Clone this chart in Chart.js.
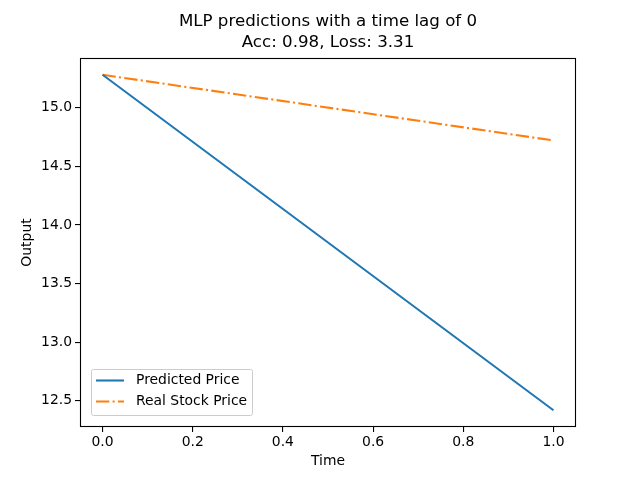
<!DOCTYPE html>
<html><head><meta charset="utf-8">
<script src="https://cdn.jsdelivr.net/npm/chart.js@4/dist/chart.umd.min.js"></script>
<style>html,body{margin:0;padding:0;background:#fff}canvas{display:block}</style>
</head><body>
<canvas id="c" width="640" height="480"></canvas>
<script>
const titleLines = ["MLP predictions with a time lag of 0", "Acc: 0.98, Loss: 3.31"];
const timeValues = [0.0, 1.0];
const predictedPrice = [15.28, 12.42];
const realStockPrice = [15.28, 14.72];
const seriesLabels = ["Predicted Price", "Real Stock Price"];
const xTicks = [0.0, 0.2, 0.4, 0.6, 0.8, 1.0];
const yTicks = [12.5, 13.0, 13.5, 14.0, 14.5, 15.0];
const xTitle = "Time";
const yTitle = "Output";

const FONT = "'DejaVu Sans', sans-serif";
const LW = 2.08;
const dashDot = [13.3, 3.3, 2.08, 3.3];

const frameAndText = {
  id: 'frameAndText',
  afterDraw(chart) {
    const ctx = chart.ctx, a = chart.chartArea;
    ctx.save();
    ctx.strokeStyle = '#000'; ctx.lineWidth = 1.1;
    ctx.strokeRect(Math.round(a.left) + 0.5, Math.round(a.top) + 0.5, Math.round(a.right - a.left) - 1, Math.round(a.bottom - a.top) - 1);
    // title
    ctx.fillStyle = '#000';
    ctx.font = '16.67px ' + FONT;
    ctx.textAlign = 'center'; ctx.textBaseline = 'middle';
    const cx = (a.left + a.right) / 2;
    ctx.fillText(titleLines[0], cx, 22);
    ctx.fillText(titleLines[1], cx, 43);
    // legend
    const lx = 91.5, ly = 369.5, lw = 161, lh = 46;
    ctx.fillStyle = 'rgba(255,255,255,0.8)';
    ctx.strokeStyle = '#cccccc'; ctx.lineWidth = 1;
    ctx.beginPath();
    if (ctx.roundRect) ctx.roundRect(lx, ly, lw, lh, 2); else ctx.rect(lx, ly, lw, lh);
    ctx.fill(); ctx.stroke();
    const ds = chart.data.datasets;
    const rows = [380.5, 401.5];
    ds.forEach((d, i) => {
      ctx.strokeStyle = d.borderColor; ctx.lineWidth = LW;
      ctx.setLineDash(d.borderDash || []);
      ctx.beginPath(); ctx.moveTo(96, rows[i]); ctx.lineTo(124, rows[i]); ctx.stroke();
      ctx.setLineDash([]);
      ctx.fillStyle = '#000'; ctx.font = '13.9px ' + FONT;
      ctx.textAlign = 'left'; ctx.textBaseline = 'middle';
      ctx.fillText(d.label, 136, rows[i]);
    });
    ctx.restore();
  }
};

new Chart(document.getElementById('c'), {
  type: 'line',
  data: {
    datasets: [
      { label: seriesLabels[0], data: timeValues.map((t, i) => ({x: t, y: predictedPrice[i]})),
        borderColor: '#1f77b4', borderWidth: LW, pointRadius: 0, fill: false, tension: 0 },
      { label: seriesLabels[1], data: timeValues.map((t, i) => ({x: t, y: realStockPrice[i]})),
        borderColor: '#ff7f0e', borderWidth: LW, pointRadius: 0, fill: false, tension: 0, borderDash: dashDot }
    ]
  },
  options: {
    responsive: false, animation: false, devicePixelRatio: 1,
    layout: { padding: { left: 0, right: 64, top: 58, bottom: 0 } },
    plugins: { legend: { display: false }, title: { display: false }, tooltip: { enabled: false } },
    scales: {
      x: {
        type: 'linear', min: -0.05, max: 1.05,
        afterBuildTicks: s => { s.ticks = xTicks.map(v => ({value: v})); },
        afterFit: s => { s.height = 53; },
        ticks: { color: '#000', font: { family: FONT, size: 13.9 }, padding: 2, maxRotation: 0,
                 callback: v => Number(v).toFixed(1) },
        grid: { display: true, drawOnChartArea: false, drawTicks: true, tickLength: 5, color: '#000', lineWidth: 1.1 },
        border: { display: false },
        title: { display: true, text: xTitle, color: '#000', font: { family: FONT, size: 13.9 }, padding: { top: 0, bottom: 10 } }
      },
      y: {
        type: 'linear', min: 12.277, max: 15.423,
        afterBuildTicks: s => { s.ticks = yTicks.map(v => ({value: v})); },
        afterFit: s => { s.width = 80; },
        ticks: { color: '#000', font: { family: FONT, size: 13.9 }, padding: 3,
                 callback: v => Number(v).toFixed(1) },
        grid: { display: true, drawOnChartArea: false, drawTicks: true, tickLength: 5, color: '#000', lineWidth: 1.1 },
        border: { display: false },
        title: { display: true, text: yTitle, color: '#000', font: { family: FONT, size: 13.9 }, padding: { top: 19, bottom: 0 } }
      }
    }
  },
  plugins: [frameAndText]
});
</script>
</body></html>
